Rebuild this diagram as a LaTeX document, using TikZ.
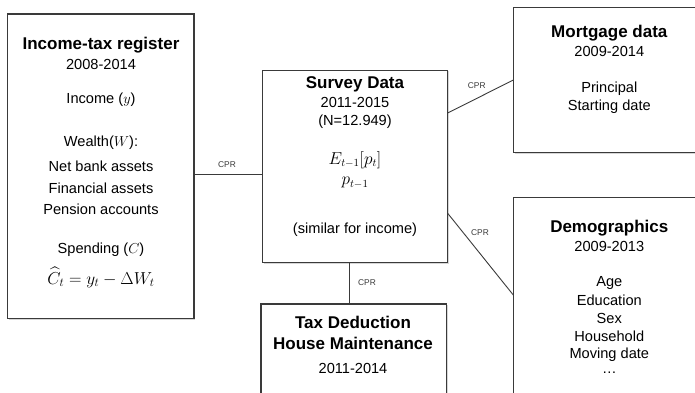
\documentclass[tikz,border=0pt]{standalone}
\usepackage{fontspec}
\setmainfont{Liberation Sans}
\usepackage{amsmath}
\usetikzlibrary{calc}
\definecolor{lineg}{HTML}{3A3A3A}
\definecolor{shad}{HTML}{D6D6D6}
\tikzset{
  box/.style={draw=lineg, line width=1.1pt, fill=white, rectangle, inner sep=0pt},
  shadowbox/.style={fill=shad, rectangle, inner sep=0pt, draw=none},
  conn/.style={draw=lineg, line width=0.9pt},
  ttl/.style={font=\fontsize{17}{19}\selectfont\bfseries, inner sep=0pt, anchor=center},
  txt/.style={font=\fontsize{14.6}{17}\selectfont, inner sep=0pt, anchor=center},
  mth/.style={font=\fontsize{16}{18}\selectfont, inner sep=0pt, anchor=center},
  cpr/.style={font=\fontsize{8.4}{10}\selectfont, text=lineg, inner sep=0pt, anchor=center},
}
\begin{document}
\begin{tikzpicture}[x=1pt,y=-1pt]
\useasboundingbox (0,0) rectangle (695,392);
\clip (0,0) rectangle (695,392);
% shadows
\node[shadowbox, minimum width=186.3pt, minimum height=304.3pt] (regS) at (102.1,167.6) {};
\node[shadowbox, minimum width=185.4pt, minimum height=192.3pt] (surS) at (356.3,167.6) {};
\node[shadowbox, minimum width=191.7pt, minimum height=145pt] (morS) at (610.4,81.1) {};
\node[shadowbox, minimum width=191.7pt, minimum height=230pt] (demS) at (610.4,313.6) {};
\node[shadowbox, minimum width=185.7pt, minimum height=130pt] (taxS) at (355.1,370.3) {};
% boxes
\node[box, minimum width=186.3pt, minimum height=304.3pt] (reg) at (100.85,166.15) {};
\node[box, minimum width=185.4pt, minimum height=192.3pt] (sur) at (355,166.2) {};
\node[box, minimum width=191.7pt, minimum height=145pt] (mor) at (609.15,79.8) {};
\node[box, minimum width=191.7pt, minimum height=230pt] (dem) at (609.15,312.3) {};
\node[box, minimum width=185.7pt, minimum height=130pt] (tax) at (353.85,369) {};
% connectors
\coordinate (s1) at (262.3,174.3);
\coordinate (s2) at (447.7,113);
\coordinate (m2) at (513.3,80);
\coordinate (s3) at (447.7,213.3);
\coordinate (d3) at (513.3,295);
\coordinate (s4) at (349.3,262.3);
\coordinate (t4) at (349.3,304);
\draw[conn] (reg.east |- s1) -- (s1);
\draw[conn] (s2) -- (m2);
\draw[conn] (s3) -- (d3);
\draw[conn] (s4) -- (t4);
\node[cpr] (c1) at (227,165) {CPR};
\node[cpr] (c2) at (476.7,86) {CPR};
\node[cpr] (c3) at (480,233) {CPR};
\node[cpr] (c4) at (367,282.7) {CPR};
% income-tax register
\node[ttl] (r1) at (101,45) {Income-tax register};
\node[txt] (r2) at (101,64) {2008-2014};
\node[txt] (r3) at (101,100) {Income ($y$)};
\node[txt] (r4) at (101,143) {Wealth($W$):};
\node[txt] (r5) at (101,166) {Net bank assets};
\node[txt] (r6) at (101,188) {Financial assets};
\node[txt] (r7) at (101,209) {Pension accounts};
\node[txt] (r8) at (101,250) {Spending ($C$)};
\node[mth, font=\fontsize{17.5}{19}\selectfont] (r9) at (101,277.5) {$\widehat{C}_t = y_t - \Delta W_t$};
% survey
\node[ttl] (u1) at (355,84) {Survey Data};
\node[txt] (u2) at (355,102.7) {2011-2015};
\node[txt] (u3) at (355,121.7) {(N=12.949)};
\node[mth] (u4) at (355,160) {$E_{t-1}[p_t]$};
\node[mth] (u5) at (355,182.7) {$p_{t-1}$};
\node[txt] (u6) at (355,229.3) {(similar for income)};
% mortgage
\node[ttl] (m1) at (609.3,33.3) {Mortgage data};
\node[txt] (mA) at (609.3,51.7) {2009-2014};
\node[txt] (mB) at (609.3,88.3) {Principal};
\node[txt] (mC) at (609.3,106.7) {Starting date};
% demographics
\node[ttl] (d1) at (609.3,228.3) {Demographics};
\node[txt] (dA) at (609.3,246.7) {2009-2013};
\node[txt] (dB) at (609.3,283.3) {Age};
\node[txt] (dC) at (609.3,300.7) {Education};
\node[txt] (dD) at (609.3,318.3) {Sex};
\node[txt] (dE) at (609.3,336.7) {Household};
\node[txt] (dF) at (609.3,355) {Moving date};
\node[txt] (dG) at (609.3,373) {\ldots};
% tax deduction
\node[ttl] (t1) at (353,322.7) {Tax Deduction};
\node[ttl] (t2) at (353,343.3) {House Maintenance};
\node[txt] (t3) at (353,368.3) {2011-2014};
\end{tikzpicture}
\end{document}
